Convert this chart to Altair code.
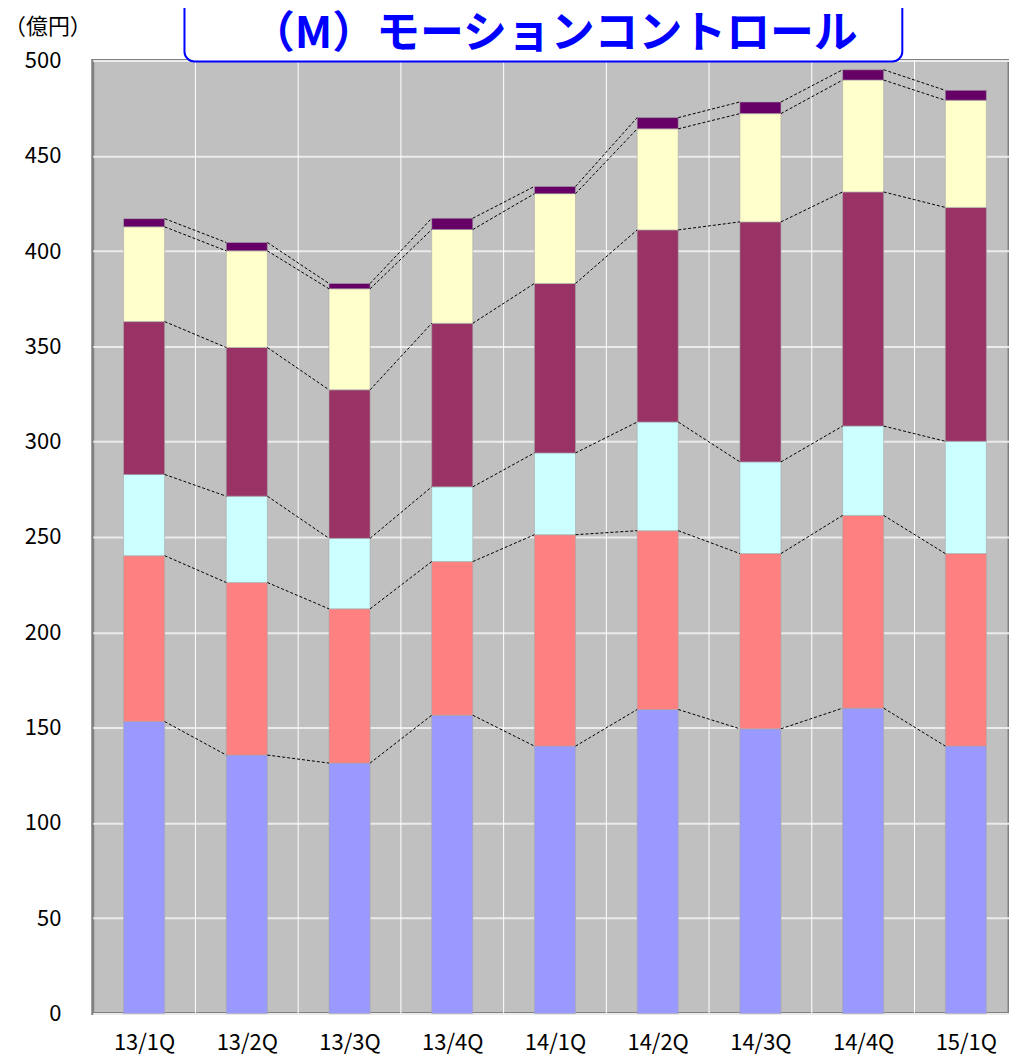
import json
import altair as alt
import pandas as pd

# ---- data ----
categories = ["13/1Q", "13/2Q", "13/3Q", "13/4Q", "14/1Q", "14/2Q", "14/3Q", "14/4Q", "15/1Q"]
series_names = ["系列1", "系列2", "系列3", "系列4", "系列5", "系列6"]
s1 = [153.2, 135.6, 131.4, 156.5, 140.3, 159.5, 149.4, 160.2, 140.3]
s2 = [87.0, 90.5, 80.9, 80.6, 110.9, 93.8, 91.9, 101.1, 101.0]
s3 = [42.6, 45.3, 37.0, 39.2, 42.9, 57.0, 48.1, 46.9, 58.9]
s4 = [80.2, 78.0, 77.9, 85.8, 88.9, 100.8, 125.9, 122.8, 122.7]
s5 = [49.7, 50.7, 53.0, 49.2, 47.1, 53.0, 56.8, 58.7, 56.2]
s6 = [4.3, 4.4, 2.8, 5.9, 3.8, 5.9, 6.1, 5.4, 5.2]
colors = ["#9999FF", "#FF8080", "#CCFFFF", "#993366", "#FFFFCC", "#660066"]
y_ticks = list(range(0, 501, 50))
chart_title = "（M）モーションコントロール"
unit_label = "（億円）"

FONT = "Noto Sans CJK JP"
HALF = 0.2  # half bar width in category units

series = [s1, s2, s3, s4, s5, s6]
rows = []
cums = []
for i, cat in enumerate(categories):
    base = 0.0
    col = []
    for name, vals in zip(series_names, series):
        top = base + vals[i]
        rows.append({"cat": cat, "series": name, "x0": i - HALF, "x1": i + HALF,
                     "y0": base, "y1": top})
        col.append(top)
        base = top
    cums.append(col)
df = pd.DataFrame(rows)

conn = []
for lvl in range(len(series)):
    for i in range(len(categories) - 1):
        conn.append({"xa": i + HALF, "xb": i + 1 - HALF,
                     "ya": cums[i][lvl], "yb": cums[i + 1][lvl]})
conn_df = pd.DataFrame(conn)

vgrid_df = pd.DataFrame({"x": [i + 0.5 for i in range(len(categories) - 1)]})

x_scale = alt.Scale(domain=[-0.5, len(categories) - 0.58], nice=False, zero=False)
y_scale = alt.Scale(domain=[0, 500], nice=False, zero=True)

label_expr = json.dumps(categories, ensure_ascii=False) + "[datum.value]"

x_axis = alt.Axis(values=list(range(len(categories))), labelExpr=label_expr,
                  grid=False, ticks=False, domain=False, title=None,
                  labelFont=FONT, labelFontSize=22, labelColor="#000000",
                  labelPadding=19, labelFlush=False, labelOverlap=False)
y_axis = alt.Axis(values=y_ticks, grid=True, gridColor="#EBEBEB", gridWidth=2,
                  ticks=False, domain=False, title=None,
                  labelFont=FONT, labelFontSize=22, labelColor="#000000",
                  labelPadding=32, labelOverlap=False)

bars = alt.Chart(df).mark_bar(stroke="#A8A8A8", strokeWidth=0.6).encode(
    x=alt.X("x0:Q", scale=x_scale, axis=x_axis),
    x2="x1:Q",
    y=alt.Y("y0:Q", scale=y_scale, axis=y_axis),
    y2="y1:Q",
    color=alt.Color("series:N", scale=alt.Scale(domain=series_names, range=colors),
                    legend=None),
)

vgrid = alt.Chart(vgrid_df).mark_rule(color="white", strokeWidth=1).encode(
    x=alt.X("x:Q", scale=x_scale, axis=x_axis)
)

connectors = alt.Chart(conn_df).mark_rule(color="#000000", strokeWidth=1,
                                          strokeDash=[3, 2]).encode(
    x="xa:Q", x2="xb:Q", y="ya:Q", y2="yb:Q"
)

tdf = pd.DataFrame({"t": [chart_title], "u": [unit_label]})
title_box = alt.Chart(tdf).mark_rect(cornerRadius=10, fill="white", stroke="#0000FF",
                                     strokeWidth=2).encode(
    x=alt.value(92), x2=alt.value(812), y=alt.value(-75), y2=alt.value(1)
)
title_text = alt.Chart(tdf).mark_text(font=FONT, fontSize=44, fontWeight="bold",
                                      color="#0000FF", align="center",
                                      baseline="alphabetic").encode(
    x=alt.value(463), y=alt.value(-12), text="t:N"
)
unit_text = alt.Chart(tdf).mark_text(font=FONT, fontSize=22, color="#000000",
                                     align="center", baseline="middle").encode(
    x=alt.value(-45), y=alt.value(-33), text="u:N"
)

chart = alt.layer(bars, vgrid, connectors, title_box, title_text, unit_text).properties(
    width=919, height=956,
    autosize=alt.AutoSizeParams(type="none"),
    padding={"left": 85, "top": 51, "right": 0, "bottom": 45},
).configure_view(fill="#C0C0C0", stroke="#808080", strokeWidth=3)

chart.save("out.html", embed_options={"renderer": "svg", "actions": False})
